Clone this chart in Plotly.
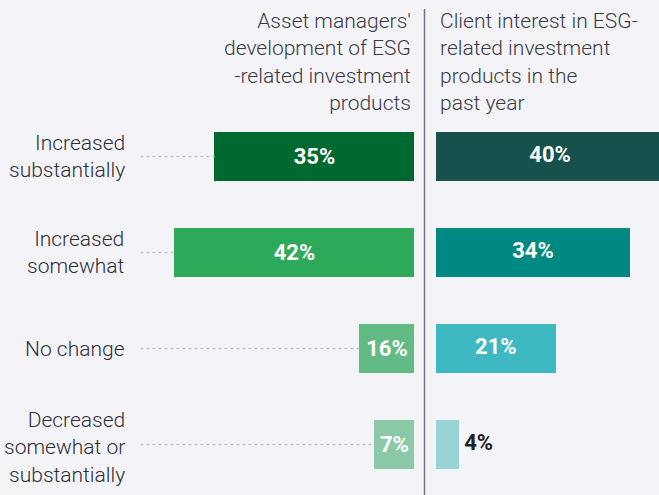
import plotly.graph_objects as go

categories = ["Increased<br>substantially", "Increased<br>somewhat", "No change",
              "Decreased<br>somewhat or<br>substantially"]

# Left panel: asset managers' development of ESG-related investment products
left_labels = ["35%", "42%", "16%", "7%"]
left_lengths = [35, 42, 9.5, 7]          # bar lengths as drawn in the reference
left_colors = ["#00692F", "#2DA95A", "#62BA84", "#8CC9A9"]

# Right panel: client interest in ESG-related investment products in the past year
right_labels = ["40%", "34%", "21%", "4%"]
right_lengths = [40, 34, 21, 4]
right_colors = ["#17514C", "#008982", "#3EB9C2", "#97D2D5"]
right_inside = [True, True, True, False]

left_header = "Asset managers'<br>development of ESG<br>-related investment<br>products"
right_header = "Client interest in ESG-<br>related investment<br>products in the<br>past year"

W, H = 659, 495
BG = "#F4F4F8"
FONT = "Roboto"
TXT = "#2E2E38"

y_idx = list(range(len(categories)))
LEFT_MAX = 48
RIGHT_MAX = 39.1

fig = go.Figure()

# leader dotted lines (left panel)
for i, v in enumerate(left_lengths):
    fig.add_trace(go.Scatter(
        x=[LEFT_MAX, v], y=[i, i], mode="lines",
        line=dict(color="#C4C4CC", width=1.5, dash="dot"),
        xaxis="x", yaxis="y", hoverinfo="skip", showlegend=False))

fig.add_trace(go.Bar(
    x=left_lengths, y=y_idx, orientation="h", width=0.51,
    marker=dict(color=left_colors, line=dict(width=0)),
    text=left_labels, textposition="inside", insidetextanchor="middle",
    constraintext="none",
    insidetextfont=dict(family=FONT, size=22, color="white", weight="bold"),
    xaxis="x", yaxis="y", showlegend=False, hoverinfo="skip"))

fig.add_trace(go.Bar(
    x=right_lengths, y=y_idx, orientation="h", width=0.51,
    marker=dict(color=right_colors, line=dict(width=0)),
    textposition="none",
    xaxis="x2", yaxis="y2", showlegend=False, hoverinfo="skip"))

# right panel value labels
in_x = [v / 2 for v, ins in zip(right_lengths, right_inside) if ins]
in_y = [i for i, ins in zip(y_idx, right_inside) if ins]
in_t = [t for t, ins in zip(right_labels, right_inside) if ins]
fig.add_trace(go.Scatter(
    x=in_x, y=in_y, text=in_t, mode="text", textposition="middle center",
    textfont=dict(family=FONT, size=22, color="white", weight="bold"),
    xaxis="x2", yaxis="y2", showlegend=False, hoverinfo="skip", cliponaxis=False))
out_x = [v for v, ins in zip(right_lengths, right_inside) if not ins]
out_y = [i for i, ins in zip(y_idx, right_inside) if not ins]
out_t = [t for t, ins in zip(right_labels, right_inside) if not ins]
fig.add_trace(go.Scatter(
    x=out_x, y=out_y, text=out_t, mode="markers+text", textposition="middle right",
    marker=dict(size=7, color="rgba(0,0,0,0)"),
    textfont=dict(family=FONT, size=22, color="#1E1E28", weight="bold"),
    xaxis="x2", yaxis="y2", showlegend=False, hoverinfo="skip", cliponaxis=False))

yrange = [(H - 156.5) / 96, -156.5 / 96]

annotations = [
    dict(text=left_header, xref="paper", yref="paper",
         x=413 / W, y=1 - 7 / H, xanchor="right", yanchor="top", align="right",
         showarrow=False, font=dict(family=FONT, size=21, color="#3A3A44", weight=300)),
    dict(text=right_header, xref="paper", yref="paper",
         x=438 / W, y=1 - 7 / H, xanchor="left", yanchor="top", align="left",
         showarrow=False, font=dict(family=FONT, size=21, color="#3A3A44", weight=300)),
]
for i, c in enumerate(categories):
    nlines = c.count("<br>") + 1
    annotations.append(dict(
        text=c, xref="paper", yref="y", x=127 / W, y=i,
        xanchor="right", yanchor="middle", align="right", showarrow=False,
        yshift=-3 if nlines > 2 else 0,
        font=dict(family=FONT, size=21, color=TXT, weight=300)))

fig.update_layout(
    width=W, height=H,
    margin=dict(l=0, r=0, t=0, b=0),
    paper_bgcolor=BG, plot_bgcolor=BG,
    font=dict(family=FONT, color=TXT),
    bargap=0,
    xaxis=dict(domain=[140.4 / W, 414 / W], range=[LEFT_MAX, 0],
               showgrid=False, zeroline=False, showticklabels=False, fixedrange=True),
    xaxis2=dict(domain=[436 / W, 1], range=[0, RIGHT_MAX],
                showgrid=False, zeroline=False, showticklabels=False, fixedrange=True),
    yaxis=dict(domain=[0, 1], range=yrange, showgrid=False, zeroline=False,
               showticklabels=False, anchor="x", fixedrange=True),
    yaxis2=dict(domain=[0, 1], range=yrange, showgrid=False, zeroline=False,
                showticklabels=False, anchor="x2", matches="y"),
    shapes=[dict(type="line", xref="paper", yref="paper",
                 x0=424.5 / W, x1=424.5 / W, y0=0, y1=1 - 9 / H,
                 line=dict(color="#747480", width=1.5))],
    annotations=annotations,
)

fig.write_html("out.html", config={"displayModeBar": False},
               post_script="document.body.style.margin='0';document.body.style.background='" + BG + "';")
